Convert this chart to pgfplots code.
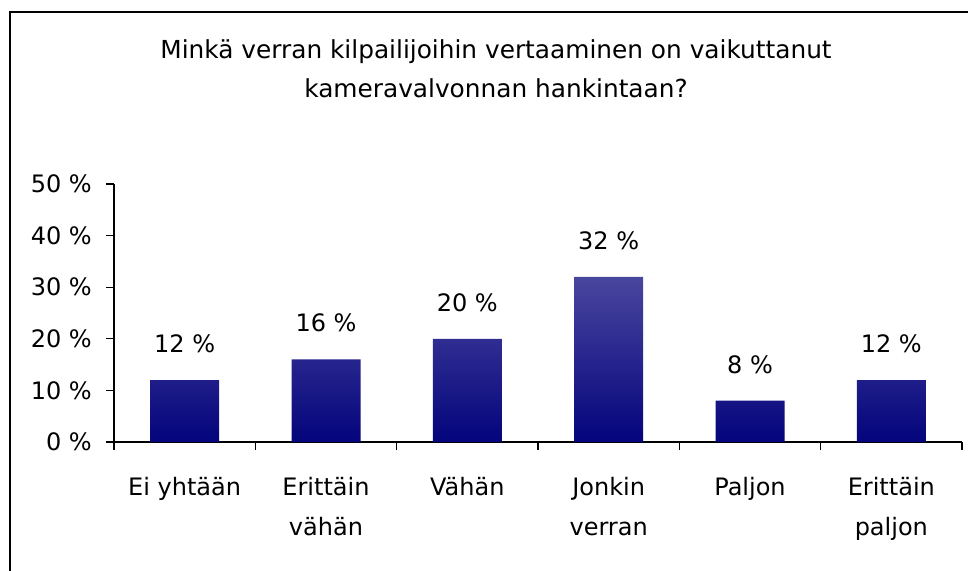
\documentclass[border=0pt]{standalone}
\usepackage{fontspec}
\setmainfont{DejaVu Sans}
\usepackage{pgfplots}
\pgfplotsset{compat=1.18}
\definecolor{barTop}{RGB}{73,70,158}
\definecolor{barBot}{RGB}{4,4,124}
\newcommand{\lblfont}{\fontsize{24bp}{40bp}\selectfont}
\newcommand{\ttlfont}{\fontsize{24.8bp}{30bp}\selectfont}

\begin{document}
\begin{tikzpicture}
\useasboundingbox (0bp,0bp) rectangle (968bp,571bp);
% outer frame (only top and left edges are inside the picture)
\draw[line width=1.3bp] (10bp,0bp) -- (10bp,559bp) -- (968bp,559bp);
\node[anchor=base, font=\ttlfont] at (496bp,512bp) {Minkä verran kilpailijoihin vertaaminen on vaikuttanut};
\node[anchor=base, font=\ttlfont] at (496bp,473bp) {kameravalvonnan hankintaan?};

\begin{axis}[
  at={(114bp,129bp)}, anchor=origin,
  scale only axis, width=848bp, height=258bp,
  xmin=0, xmax=6, ymin=0, ymax=50,
  axis x line=bottom, axis y line=left,
  axis line style={line width=1.3bp, -},
  ybar, bar width=69bp,
  xtick={0.5,1.5,...,5.5},
  xticklabels={Ei yhtään, {Erittäin\\vähän}, Vähän, {Jonkin\\verran}, Paljon, {Erittäin\\paljon}},
  minor xtick={0,1,...,6},
  every major x tick/.append style={draw=none},
  every minor x tick/.append style={line width=1.3bp, black},
  every major y tick/.append style={line width=1.3bp, black},
  tick align=outside,
  major tick length=8bp, minor tick length=8bp,
  ytick={0,10,...,50},
  yticklabel={\pgfmathprintnumber[assume math mode=true]{\tick}\ \%},
  xticklabel style={align=center, font=\lblfont, anchor=north, inner sep=0pt, yshift=-27bp},
  yticklabel style={font=\lblfont, anchor=east, inner sep=0pt, xshift=-14bp},
  nodes near coords={\pgfmathprintnumber[assume math mode=true]{\pgfplotspointmeta}\ \%},
  nodes near coords style={font=\lblfont, anchor=south, inner sep=0pt, yshift=27bp},
  clip=false,
]
\addplot[draw=none, top color=barTop, bottom color=barBot]
  coordinates {(0.5,12) (1.5,16) (2.5,20) (3.5,32) (4.5,8) (5.5,12)};
\end{axis}
\end{tikzpicture}
\end{document}
